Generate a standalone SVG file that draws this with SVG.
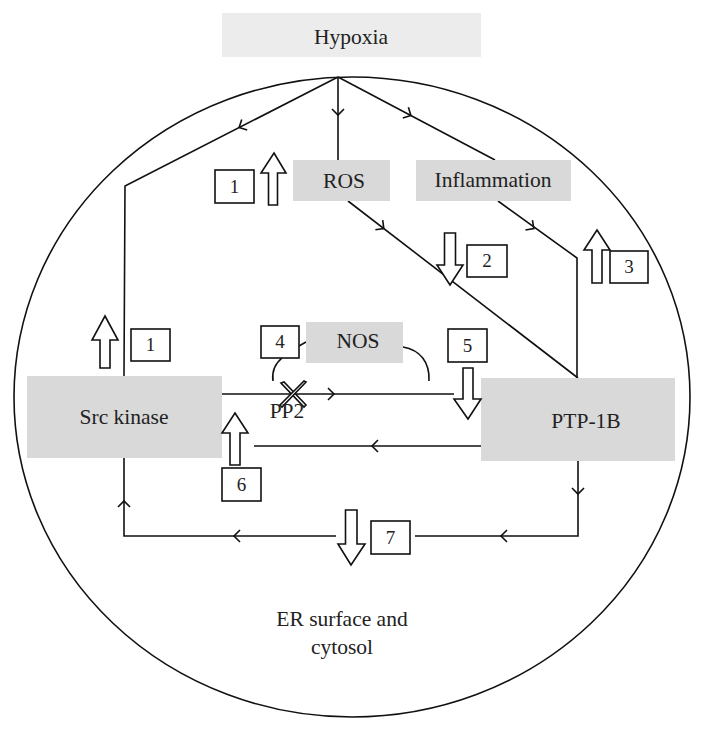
<svg xmlns="http://www.w3.org/2000/svg" xmlns:xlink="http://www.w3.org/1999/xlink" width="705" height="732" viewBox="0 0 705 732">
<style>
.ln{fill:none;stroke:#111;stroke-width:1.6}
.box{fill:#d9d9d9}
.lbl{font-family:"Liberation Serif","DejaVu Serif",serif;font-size:21.5px;fill:#222;text-anchor:middle}
.num{fill:#fff;stroke:#111;stroke-width:1.6}
.numt{font-family:"Liberation Serif","DejaVu Serif",serif;font-size:19px;fill:#222;text-anchor:middle}
.blk{fill:#fff;stroke:#111;stroke-width:1.6;stroke-linejoin:miter}
</style>
<defs>
<path id="chev" d="M-5,-6 L1,0 L-5,6" fill="none" stroke="#111" stroke-width="1.6"/>
</defs>
<rect width="705" height="732" fill="#fff"/>
<ellipse cx="352" cy="397" rx="338" ry="320" class="ln"/>

<g id="connectors">
<path class="ln" d="M338,77 L125,186 L124,376"/>
<path class="ln" d="M338,77 L338,160"/>
<path class="ln" d="M338,77 L495,160"/>
<path class="ln" d="M348,201 L578,378"/>
<path class="ln" d="M498,201 L577,258 L577,378"/>
<path class="ln" d="M222,394 L454,394"/>
<path class="ln" d="M481,446 L254,446"/>
<path class="ln" d="M578,461 L578,536 L415,536"/>
<path class="ln" d="M336,536 L124,536 L124,458"/>
<path class="ln" d="M299,346 L306,342"/>
<path class="ln" d="M282,358 Q271,367 273,381"/>
<path class="ln" d="M403,347 C420,350 430,362 429,381"/>
<use xlink:href="#chev" transform="translate(240,127) rotate(152.9)"/>
<use xlink:href="#chev" transform="translate(338,114) rotate(90)"/>
<use xlink:href="#chev" transform="translate(410,115) rotate(27.9)"/>
<use xlink:href="#chev" transform="translate(383,228) rotate(37.6)"/>
<use xlink:href="#chev" transform="translate(533,228) rotate(35.8)"/>
<use xlink:href="#chev" transform="translate(333,394)"/>
<use xlink:href="#chev" transform="translate(373,446) rotate(180)"/>
<use xlink:href="#chev" transform="translate(578,493) rotate(90)"/>
<use xlink:href="#chev" transform="translate(502,536) rotate(180)"/>
<use xlink:href="#chev" transform="translate(235,536) rotate(180)"/>
<use xlink:href="#chev" transform="translate(124,502) rotate(-90)"/>
</g>

<g id="hypoxia"><rect x="222" y="13" width="259" height="44" fill="#ececec"/><text class="lbl" x="351" y="44">Hypoxia</text></g>
<g id="ros"><rect class="box" x="293" y="160" width="97" height="41"/><text class="lbl" x="344" y="188">ROS</text></g>
<g id="inflammation"><rect class="box" x="416" y="160" width="155" height="41"/><text class="lbl" x="493" y="187">Inflammation</text></g>
<g id="nos"><rect class="box" x="306" y="322" width="97" height="41"/><text class="lbl" x="358" y="348">NOS</text></g>
<g id="src"><rect class="box" x="27" y="376" width="195" height="82"/><text class="lbl" x="124" y="424">Src kinase</text></g>
<g id="ptp"><rect class="box" x="481" y="378" width="194" height="83"/><text class="lbl" x="586" y="428">PTP-1B</text></g>
<g id="pp2">
<path class="blk" d="M281,383 L284,382 L306,405 L304,407 Z"/>
<path class="blk" d="M306,382 L304,381 L280,405 L282,407 Z"/>
<text class="lbl" x="287" y="418">PP2</text>
</g>
<g id="er"><text class="lbl" x="342" y="626">ER surface and</text><text class="lbl" x="342" y="654">cytosol</text></g>

<g id="arrow1a"><path class="blk" d="M274,153 L286,173 L277.5,173 L277.5,205 L268.5,205 L268.5,173 L261,173 Z"/><rect class="num" x="215" y="170" width="39" height="33"/><text class="numt" x="234.5" y="193">1</text></g>
<g id="arrow1b"><path class="blk" d="M105,316 L118,340 L110,340 L110,368 L100,368 L100,340 L92,340 Z"/><rect class="num" x="131" y="329" width="39" height="32"/><text class="numt" x="150.5" y="351">1</text></g>
<g id="arrow2"><path class="blk" d="M444.5,233 L455.5,233 L455.5,265 L463,265 L450,285 L437,265 L444.5,265 Z"/><rect class="num" x="467" y="245" width="40" height="32"/><text class="numt" x="487" y="267">2</text></g>
<g id="arrow3"><path class="blk" d="M597,230 L610,250 L602,250 L602,283 L592,283 L592,250 L584,250 Z"/><rect class="num" x="610" y="251" width="38" height="32"/><text class="numt" x="629" y="273">3</text></g>
<g id="box4"><rect class="num" x="261" y="326" width="38" height="32"/><text class="numt" x="280" y="348">4</text></g>
<g id="arrow5"><path class="blk" d="M463,368 L473,368 L473,399 L481,399 L468,419 L454,399 L463,399 Z"/><rect class="num" x="448" y="329" width="39" height="33"/><text class="numt" x="467.5" y="352">5</text></g>
<g id="arrow6"><path class="blk" d="M235,413 L248,433 L240,433 L240,465 L230,465 L230,433 L222,433 Z"/><rect class="num" x="222" y="468" width="39" height="33"/><text class="numt" x="241.5" y="491">6</text></g>
<g id="arrow7"><path class="blk" d="M345.5,510 L357,510 L357,544 L365,544 L351,565 L338,544 L345.5,544 Z"/><rect class="num" x="371" y="521" width="39" height="33"/><text class="numt" x="390.5" y="544">7</text></g>
</svg>
